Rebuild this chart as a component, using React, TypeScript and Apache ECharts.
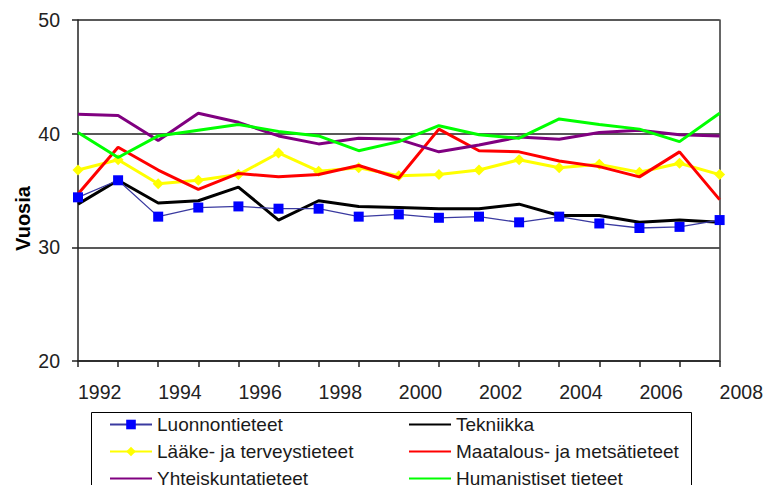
import React, { useEffect, useRef } from "react";
import * as echarts from "echarts";

const years = [1992, 1993, 1994, 1995, 1996, 1997, 1998, 1999, 2000, 2001, 2002, 2003, 2004, 2005, 2006, 2007, 2008];
const yTicks = [20, 30, 40, 50];
const luonnontieteet = [34.4, 35.9, 32.7, 33.5, 33.6, 33.4, 33.4, 32.7, 32.9, 32.6, 32.7, 32.2, 32.7, 32.1, 31.7, 31.8, 32.4];
const tekniikka = [33.8, 35.9, 33.9, 34.1, 35.3, 32.4, 34.1, 33.6, 33.5, 33.4, 33.4, 33.8, 32.8, 32.8, 32.2, 32.4, 32.2];
const laake = [36.8, 37.7, 35.6, 35.9, 36.4, 38.3, 36.7, 37.0, 36.3, 36.4, 36.8, 37.7, 37.0, 37.3, 36.6, 37.4, 36.4];
const maatalous = [34.7, 38.8, 36.8, 35.1, 36.5, 36.2, 36.4, 37.2, 36.1, 40.4, 38.5, 38.4, 37.6, 37.1, 36.2, 38.4, 34.2];
const yhteiskunta = [41.7, 41.6, 39.4, 41.8, 41.0, 39.8, 39.1, 39.6, 39.5, 38.4, 39.0, 39.7, 39.5, 40.1, 40.3, 39.9, 39.8];
const humanistiset = [40.1, 37.9, 39.8, 40.3, 40.8, 40.2, 39.8, 38.5, 39.3, 40.7, 39.9, 39.6, 41.3, 40.8, 40.4, 39.3, 41.8];

const names = [
  "Luonnontieteet",
  "Tekniikka",
  "Lääke- ja terveystieteet",
  "Maatalous- ja metsätieteet",
  "Yhteiskuntatieteet",
  "Humanistiset tieteet",
];

const FONT = "'Liberation Sans', Arial, sans-serif";

export default function App() {
  const ref = useRef<HTMLDivElement>(null);
  useEffect(() => {
    if (!ref.current) return;
    const chart = echarts.init(ref.current, null, { renderer: "svg" });
    const pairs = (arr: number[]) => arr.map((v, i) => [years[i], v]);
    const plain = (name: string, data: number[], color: string, z: number) => ({
      name,
      type: "line",
      data: pairs(data),
      symbol: "none",
      lineStyle: { color, width: 3 },
      itemStyle: { color },
      z,
    });
    const hidden = { color: "rgba(0,0,0,0)", borderColor: "rgba(0,0,0,0)", borderWidth: 0 };
    const item = (i: number, marker: boolean) =>
      marker ? { name: names[i] } : { name: names[i], itemStyle: hidden };
    const legendBase = {
      orient: "vertical",
      height: 120,
      itemWidth: 42,
      itemHeight: 12,
      itemGap: 8,
      textStyle: { fontSize: 19, lineHeight: 19, color: "#1a1a1a", fontFamily: FONT },
    };
    chart.setOption({
      animation: false,
      backgroundColor: "#fff",
      grid: { left: 78, right: 44, top: 20, bottom: 124, containLabel: false },
      xAxis: {
        type: "value",
        min: years[0],
        max: years[years.length - 1],
        interval: 1,
        axisLine: { show: true, lineStyle: { color: "#222", width: 1.5 } },
        axisTick: { show: true, length: 6, lineStyle: { color: "#222", width: 1.5 } },
        splitLine: { show: false },
        axisLabel: {
          align: "left",
          margin: 21,
          fontSize: 19.5,
          color: "#222",
          fontFamily: FONT,
          showMinLabel: true,
          showMaxLabel: true,
          formatter: (v: number) => (v % 2 === 0 ? String(v) : ""),
        },
      },
      yAxis: [
        {
          type: "value",
          min: yTicks[0],
          max: yTicks[yTicks.length - 1],
          interval: 10,
          axisLine: { show: true, lineStyle: { color: "#222", width: 1.5 } },
          axisTick: { show: true, length: 6, lineStyle: { color: "#222", width: 1.5 } },
          splitLine: { show: true, lineStyle: { color: "#222", width: 1.5 } },
          axisLabel: { margin: 18, fontSize: 19.5, color: "#222", fontFamily: FONT },
        },
        {
          type: "value",
          position: "right",
          min: yTicks[0],
          max: yTicks[yTicks.length - 1],
          interval: 10,
          axisLine: { show: true, lineStyle: { color: "#333", width: 1.5 } },
          axisTick: { show: false },
          axisLabel: { show: false },
          splitLine: { show: false },
        },
      ],
      legend: [
        { ...legendBase, left: 104, top: 410, data: [item(0, true), item(2, true), item(4, false)] },
        { ...legendBase, left: 403, top: 410, data: [item(1, false), item(3, false), item(5, false)] },
      ],
      graphic: [
        {
          type: "rect",
          shape: { x: 91.5, y: 412.5, width: 600, height: 90 },
          style: { fill: "none", stroke: "#000", lineWidth: 1 },
          z: 0,
        },
        {
          type: "text",
          x: 22.5,
          y: 218.5,
          rotation: Math.PI / 2,
          style: {
            text: "Vuosia",
            font: `bold 20px ${FONT}`,
            fill: "#000",
            align: "center",
            verticalAlign: "middle",
          },
        },
      ],
      series: [
        {
          name: names[0],
          type: "line",
          data: pairs(luonnontieteet),
          symbol: "rect",
          symbolSize: 10,
          lineStyle: { color: "#3a3aa0", width: 1.3 },
          itemStyle: { color: "#0000ff" },
          z: 8,
        },
        plain(names[1], tekniikka, "#000000", 7),
        {
          name: names[2],
          type: "line",
          data: pairs(laake),
          symbol: "diamond",
          symbolSize: 11,
          lineStyle: { color: "#ffff00", width: 3 },
          itemStyle: { color: "#ffff00" },
          z: 3,
        },
        plain(names[3], maatalous, "#ff0000", 4),
        plain(names[4], yhteiskunta, "#800080", 5),
        plain(names[5], humanistiset, "#00ff00", 6),
      ],
    });
    return () => chart.dispose();
  }, []);
  return (
    <div
      ref={ref}
      style={{ position: "fixed", left: 0, top: 0, width: 766, height: 485, background: "#fff" }}
    />
  );
}
